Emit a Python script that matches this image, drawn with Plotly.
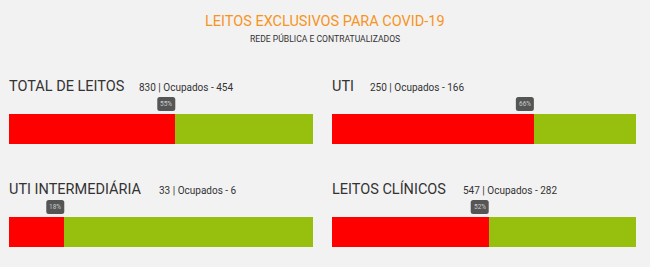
import plotly.graph_objects as go

titles = ["TOTAL DE LEITOS", "UTI", "UTI INTERMEDIÁRIA", "LEITOS CLÍNICOS"]
totals = [830, 250, 33, 547]
occupied = [454, 166, 6, 282]
main_title = "LEITOS EXCLUSIVOS PARA COVID-19"
sub_title = "REDE PÚBLICA E CONTRATUALIZADOS"

W, H = 650, 267
BG = "#f2f2f2"
RED = "#ff0000"
GREEN = "#97bf0d"
FONT = "Roboto"

# pixel layout for the four panels: (bar_left, bar_right, bar_top, bar_bottom, title_y, stats_x)
panels = [
    (9, 313, 114, 144, 86, 137),
    (332, 636, 114, 144, 86, 368),
    (9, 313, 217, 247, 189, 157),
    (332, 636, 217, 247, 189, 461),
]

def px(x):
    return x / W

def py(y):
    return 1 - y / H

def rounded_box(w, h, r):
    # pixel path relative to the anchor (right-bottom corner), y up
    return (f"M {-w + r},0 L {-r},0 Q 0,0 0,{r} L 0,{h - r} Q 0,{h} {-r},{h} "
            f"L {-w + r},{h} Q {-w},{h} {-w},{h - r} L {-w},{r} Q {-w},0 {-w + r},0 Z")

fig = go.Figure()
annotations = []
shapes = []
for i, (t, tot, occ) in enumerate(zip(titles, totals, occupied)):
    l, r, top, bot, ty, sx = panels[i]
    ax = "" if i == 0 else str(i + 1)
    free = tot - occ
    fig.add_trace(go.Bar(y=[t], x=[occ], orientation="h", marker=dict(color=RED, line=dict(width=0)),
                         xaxis="x" + ax, yaxis="y" + ax, showlegend=False, hoverinfo="skip"))
    fig.add_trace(go.Bar(y=[t], x=[free], orientation="h", marker=dict(color=GREEN, line=dict(width=0)),
                         xaxis="x" + ax, yaxis="y" + ax, showlegend=False, hoverinfo="skip"))
    fig.update_layout(**{
        "xaxis" + ax: dict(domain=[px(l), px(r)], range=[0, tot], visible=False, fixedrange=True,
                           anchor="y" + ax),
        "yaxis" + ax: dict(domain=[py(bot), py(top)], visible=False, fixedrange=True,
                           anchor="x" + ax),
    })
    annotations.append(dict(text=t, x=px(l - 2), y=py(ty), xref="paper", yref="paper",
                            xanchor="left", yanchor="middle", showarrow=False,
                            font=dict(family=FONT, size=14.5, color="#333333")))
    annotations.append(dict(text=f"{tot} | Ocupados - {occ}", x=px(sx), y=py(ty + 1), xref="paper", yref="paper",
                            xanchor="left", yanchor="middle", showarrow=False,
                            font=dict(family=FONT, size=10, color="#333333")))
    pct = round(occ / tot * 100)
    bw = 18 if pct >= 10 else 15
    shapes.append(dict(type="path", xref="x" + ax, yref="paper", xsizemode="pixel", ysizemode="pixel",
                       xanchor=occ, yanchor=py(top - 3), path=rounded_box(bw, 14, 2.5),
                       fillcolor="#555555", line=dict(width=0), layer="above"))
    annotations.append(dict(text=f"{pct}%", x=occ, xref="x" + ax, y=py(top - 10), yref="paper",
                            xanchor="center", yanchor="middle", showarrow=False,
                            xshift=-bw / 2, borderpad=0,
                            font=dict(family=FONT, size=6.5, color="#cccccc")))

annotations.append(dict(text=main_title, x=0.5, y=py(22), xref="paper", yref="paper",
                        xanchor="center", yanchor="middle", showarrow=False,
                        font=dict(family=FONT, size=14.5, color="#f7941d")))
annotations.append(dict(text=sub_title, x=0.5, y=py(38), xref="paper", yref="paper",
                        xanchor="center", yanchor="middle", showarrow=False,
                        font=dict(family=FONT, size=8.6, color="#333333")))

fig.update_layout(barmode="stack", width=W, height=H, margin=dict(l=0, r=0, t=0, b=0),
                  paper_bgcolor=BG, plot_bgcolor=BG, bargap=0, annotations=annotations, shapes=shapes)
fig.write_html("out.html", config={"displayModeBar": False})
